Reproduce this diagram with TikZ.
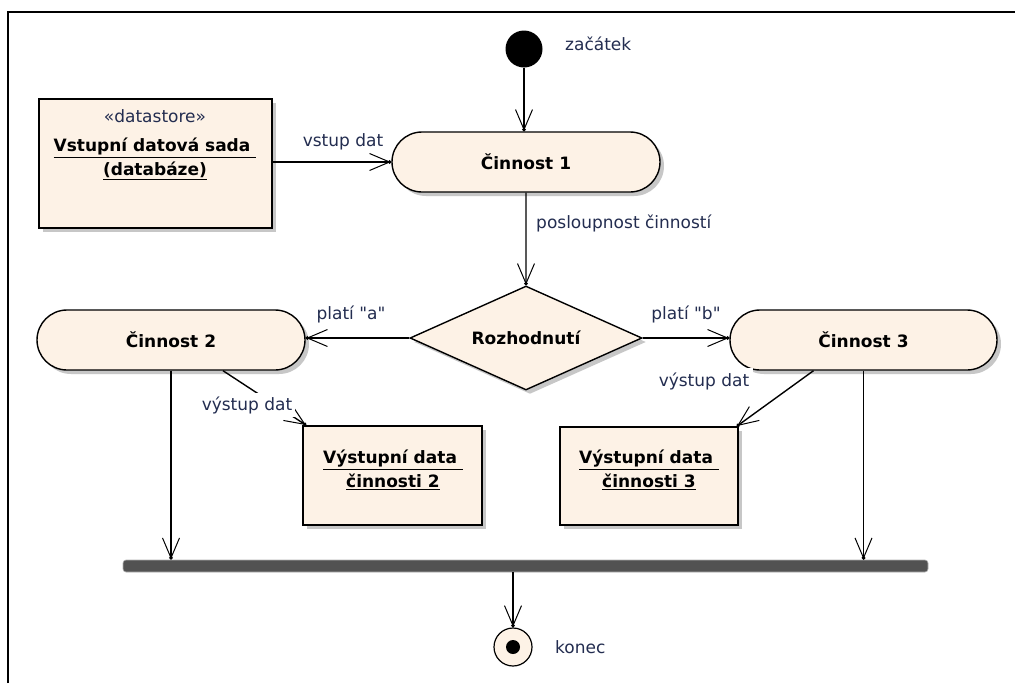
\documentclass[tikz,border=0pt]{standalone}
\usepackage{fontspec}
\setmainfont{DejaVu Sans}[Ligatures=TeXOff]
\usetikzlibrary{shapes.geometric,shapes.misc,arrows.meta,shadows}
\definecolor{bg}{RGB}{253,242,230}
\definecolor{lbl}{RGB}{35,45,80}
\definecolor{barc}{RGB}{82,82,82}
\tikzset{
  shd/.style={drop shadow={shadow xshift=4pt,shadow yshift=-4pt,fill=black!22,opacity=1}},
  act/.style={rounded rectangle, draw, line width=1.4pt, fill=bg, shd, minimum height=60pt,
    minimum width=268pt, inner sep=0pt, font=\fontsize{17}{24}\selectfont\bfseries},
  obj/.style={rectangle, draw, line width=1.4pt, fill=bg, shd, inner sep=0pt},
  objtxt/.style={align=center, inner sep=0pt, font=\fontsize{17}{24}\selectfont\bfseries},
  decis/.style={diamond, draw, line width=1.4pt, fill=bg, shd, inner sep=0pt, aspect=2.23,
    minimum width=232pt, minimum height=104pt, font=\fontsize{17}{24}\selectfont\bfseries},
  lab/.style={text=lbl, inner sep=3pt, font=\fontsize{17}{20}\selectfont},
  arr/.style={line width=1.4pt, -{Straight Barb[length=20pt,width=17pt,line width=1pt,sep=-3pt]Circle[length=3.5pt]}},
}
\begin{document}
\begin{tikzpicture}[x=1pt,y=-1pt]
\useasboundingbox (0,0) rectangle (1015,683);
\fill[white] (0,0) rectangle (1015,683);
\draw[line width=1.5pt] (8,683) -- (8,12) -- (1015,12);

% nodes
\node[circle, fill=black, minimum size=37pt, inner sep=0pt] (start) at (524,49) {};
\node[lab, anchor=west] (startlbl) at (562,44) {začátek};

\node[obj, minimum width=233pt, minimum height=129pt] (ds) at (155.5,163.5) {};
\node[align=center, inner sep=0pt, font=\fontsize{17}{24}\selectfont] (dstxt) at (155,145)
  {\color{lbl}«datastore»\\[5pt]\textbf{\underline{Vstupní datová sada\ }}\\\textbf{\underline{(databáze)}}};

\node[act] (a1) at (526,162) {Činnost 1};
\node[decis] (dec) at (526,338) {Rozhodnutí};
\node[act] (a2) at (171,340) {Činnost 2};
\node[act, minimum width=267pt] (a3) at (863.5,340) {Činnost 3};

\node[obj, minimum width=179pt, minimum height=99pt] (o2) at (392.5,475.5) {};
\node[objtxt] (o2txt) at (393,470) {\underline{Výstupní data\ }\\\underline{činnosti 2}};
\node[obj, minimum width=178pt, minimum height=98pt] (o3) at (649,476) {};
\node[objtxt] (o3txt) at (649,470) {\underline{Výstupní data\ }\\\underline{činnosti 3}};

\node[rectangle, rounded corners=3pt, fill=barc, draw=black!30, line width=0.6pt,
  minimum width=805pt, minimum height=12pt, inner sep=0pt] (bar) at (525.5,566) {};

\node[circle, draw, line width=1.2pt, fill=bg, minimum size=38pt, inner sep=0pt,
  path picture={\fill[black] (path picture bounding box.center) circle (7pt);}] (endn) at (513,647) {};
\node[lab, anchor=west] (endlbl) at (552,647) {konec};

% connectors
\draw[arr] (start) -- (start |- a1.north);
\draw[arr] (ds.east |- a1.west) -- (a1.west);
\draw[arr] (a1) -- (dec);
\draw[arr] (dec.west) -- (dec.west -| a2.east);
\draw[arr] (dec.east) -- (dec.east -| a3.west);
\draw[arr] ([xshift=52pt]a2.south) -- ([xshift=4pt]o2.north west);
\draw[arr] ([xshift=-50pt]a3.south) -- ([xshift=-2pt]o3.north east);
\draw[arr] (a2.south) -- (a2.south |- bar.north);
\draw[arr] (a3.south) -- (a3.south |- bar.north);
\draw[arr] (bar.south -| endn) -- (endn.north);

% connector labels
\node[lab] (lvstup) at (343,142) {vstup dat};
\node[lab, anchor=west] (lposl) at (533,223) {posloupnost činností};
\node[lab] (lpa) at (351,314) {platí "a"};
\node[lab] (lpb) at (686,314) {platí "b"};
\node[lab, fill=white] (lvy2) at (247,405) {výstup dat};
\node[lab, fill=white, inner sep=4pt] (lvy3) at (704,381) {výstup dat};
\end{tikzpicture}
\end{document}
